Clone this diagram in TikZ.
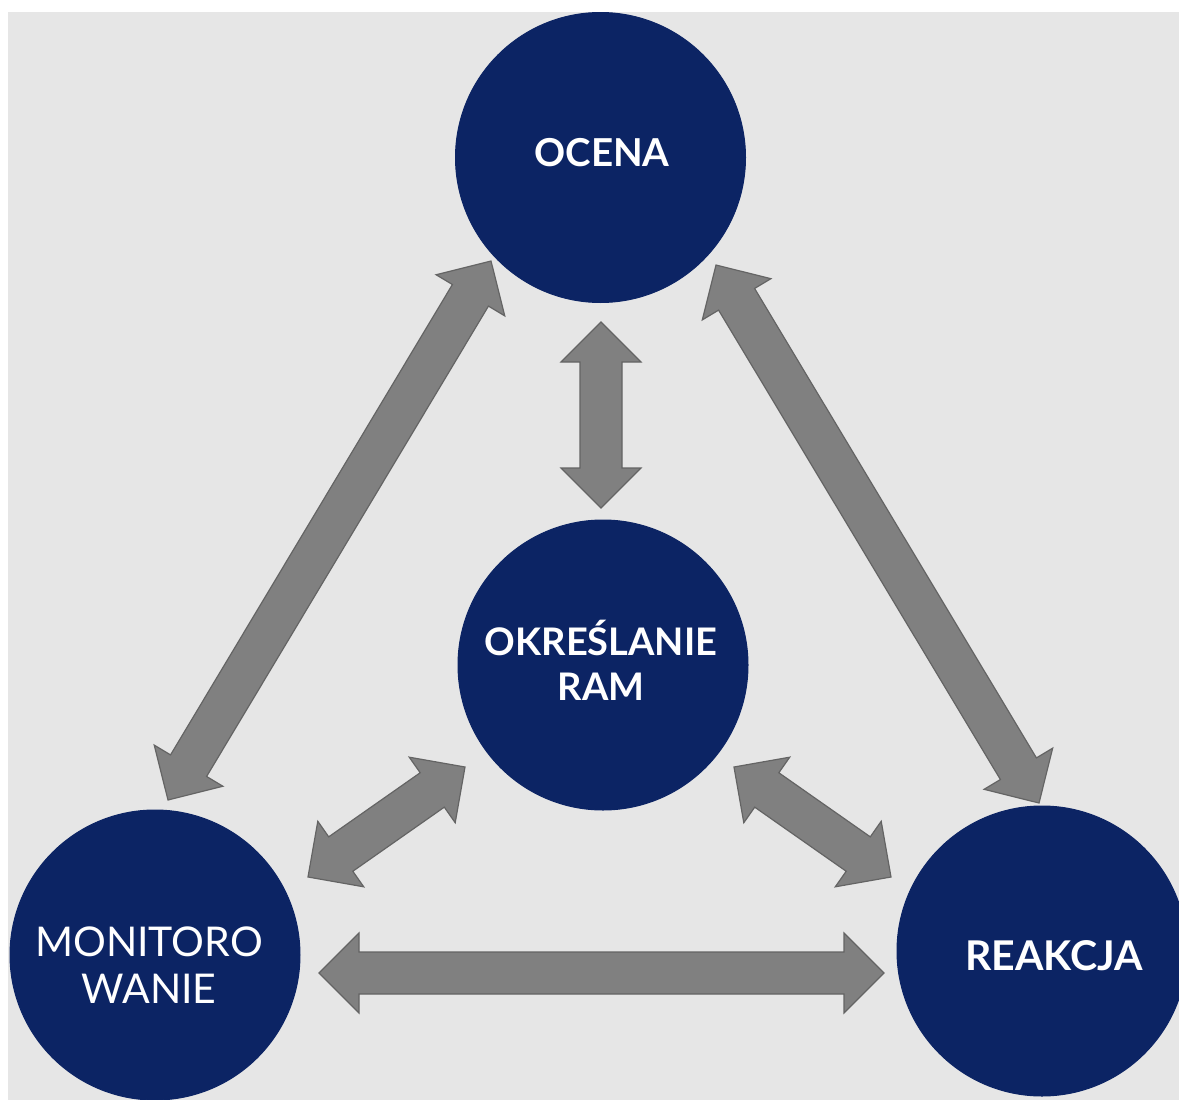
\documentclass[tikz,border=0pt]{standalone}
\usepackage{fontspec}
\setmainfont{Lato}
\usetikzlibrary{calc}

\definecolor{navy}{RGB}{12,36,100}
\definecolor{panel}{RGB}{230,230,230}
\definecolor{arrowfill}{RGB}{128,128,128}
\definecolor{arrowline}{RGB}{100,100,100}

\tikzset{
  stage/.style={circle, fill=navy, draw=navy, line width=1pt,
    minimum size=290pt, inner sep=0pt},
  stagelabel/.style={text=white, align=center, inner sep=0pt},
  fatarrowstyle/.style={fill=arrowfill, draw=arrowline, line width=1.2pt,
    line join=miter}
}

% Block double arrow between two named points:
% head length 40, head width 80, shaft width 42.
\newcommand\fatarrow[2]{%
  \path ($(#1)!40pt!(#2)$) coordinate (fa-h1)
        ($(#2)!40pt!(#1)$) coordinate (fa-h2);
  \draw[fatarrowstyle] (#1)
    -- ($(fa-h1)!40pt!90:(#2)$) -- ($(fa-h1)!21pt!90:(#2)$)
    -- ($(fa-h2)!21pt!-90:(#1)$) -- ($(fa-h2)!40pt!-90:(#1)$)
    -- (#2)
    -- ($(fa-h2)!40pt!90:(#1)$) -- ($(fa-h2)!21pt!90:(#1)$)
    -- ($(fa-h1)!21pt!-90:(#2)$) -- ($(fa-h1)!40pt!-90:(#2)$)
    -- cycle;
}

\begin{document}
\begin{tikzpicture}[x=1pt,y=-1pt]
  \useasboundingbox (0,0) rectangle (1179,1100);
  \clip (0,0) rectangle (1179,1100);
  \fill[panel] (8,12) rectangle (1179,1100);

  % the four stages
  \node[stage] (ocena) at (600.5,157.5) {};
  \node[stage] (ramy)  at (603,665) {};
  \node[stage] (monit) at (155,955) {};
  \node[stage] (reak)  at (1042,951) {};

  % labels: the base anchor sits on the baseline of the last line
  \node[stagelabel, anchor=base, font=\bfseries\fontsize{38.5}{46}\selectfont]
    (ocenaT) at (602,166) {OCENA};
  \node[stagelabel, anchor=base, font=\bfseries\fontsize{41}{49}\selectfont]
    (reakT) at (1054,970) {REAKCJA};
  \node[stagelabel, anchor=base, font=\bfseries\fontsize{38}{45}\selectfont]
    (ramyT) at (601,700) {OKREŚLANIE\\RAM};
  \node[stagelabel, anchor=base, font=\fontsize{41}{47}\selectfont]
    (monitT) at (149,1003) {MONITORO\\WANIE};

  % arrow end points
  \coordinate (a1) at (491,261);  \coordinate (a2) at (168,800);
  \coordinate (b1) at (716,265);  \coordinate (b2) at (1039,803);
  \coordinate (c1) at (601,322);  \coordinate (c2) at (601,508);
  \coordinate (d1) at (319,973);  \coordinate (d2) at (884,973);
  \coordinate (e1) at (308,877);  \coordinate (e2) at (465,767);
  \coordinate (f1) at (734,767);  \coordinate (f2) at (891,877);

  \fatarrow{a1}{a2}
  \fatarrow{b1}{b2}
  \fatarrow{c1}{c2}
  \fatarrow{d1}{d2}
  \fatarrow{e1}{e2}
  \fatarrow{f1}{f2}
\end{tikzpicture}
\end{document}
